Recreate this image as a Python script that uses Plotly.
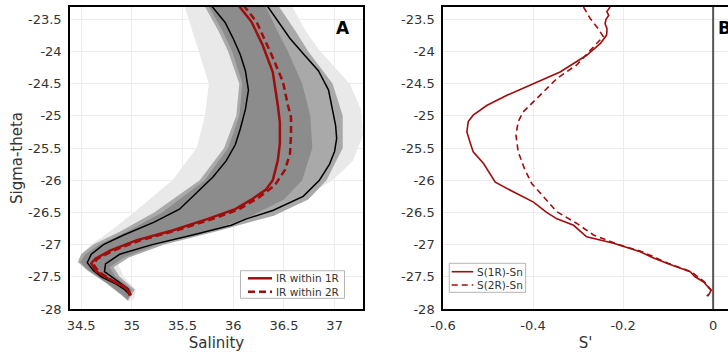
import plotly.graph_objects as go

# ---------------- Panel A data (Salinity vs Sigma-theta) ----------------
# Gray point cloud, read as envelopes (outer sparse extent, medium band, dense core)
outer_left_sig = [-23.30, -23.70, -24.00, -24.50, -25.00, -25.50, -26.00, -26.50, -26.80, -27.00, -27.15, -27.27, -27.40, -27.60, -27.80, -27.88]
outer_left_sal = [35.52, 35.60, 35.66, 35.76, 35.72, 35.64, 35.40, 35.02, 34.78, 34.60, 34.50, 34.46, 34.56, 34.74, 34.90, 34.97]
outer_right_sig = [-23.30, -23.70, -24.00, -24.50, -24.90, -25.30, -25.70, -26.00, -26.30, -26.50, -26.70, -26.90, -27.10, -27.30, -27.50, -27.70, -27.85, -27.88]
outer_right_sal = [36.58, 36.72, 36.86, 37.15, 37.26, 37.28, 37.18, 36.98, 36.66, 36.36, 35.95, 35.50, 35.08, 34.86, 34.92, 35.04, 35.02, 34.97]

mid_left_sig = [-23.30, -23.70, -24.00, -24.50, -25.00, -25.50, -26.00, -26.50, -26.80, -27.00, -27.15, -27.27, -27.40, -27.60, -27.80, -27.87]
mid_left_sal = [35.72, 35.86, 35.95, 36.06, 36.03, 35.91, 35.67, 35.22, 34.88, 34.62, 34.50, 34.47, 34.56, 34.75, 34.91, 34.96]
mid_right_sig = [-23.30, -23.70, -24.00, -24.50, -25.00, -25.50, -26.00, -26.30, -26.55, -26.80, -27.00, -27.20, -27.35, -27.50, -27.70, -27.87]
mid_right_sal = [36.45, 36.62, 36.74, 36.98, 37.08, 37.08, 36.92, 36.74, 36.40, 35.82, 35.32, 34.97, 34.82, 34.88, 35.03, 34.96]

core_left_sig = [-23.30, -23.70, -24.00, -24.50, -25.00, -25.50, -26.00, -26.50, -26.80, -27.00, -27.15, -27.27, -27.40, -27.60, -27.80, -27.86]
core_left_sal = [35.76, 35.90, 35.99, 36.09, 36.06, 35.95, 35.72, 35.30, 34.95, 34.68, 34.54, 34.49, 34.57, 34.76, 34.92, 34.96]
core_right_sig = [-23.30, -23.70, -24.00, -24.50, -25.00, -25.50, -26.00, -26.30, -26.60, -26.80, -27.00, -27.20, -27.35, -27.50, -27.70, -27.86]
core_right_sal = [36.32, 36.44, 36.54, 36.68, 36.76, 36.78, 36.68, 36.50, 36.12, 35.74, 35.26, 34.92, 34.78, 34.84, 35.00, 34.96]

# Black envelope lines
black_left_sig = [-23.30, -23.55, -23.80, -24.05, -24.30, -24.60, -24.90, -25.20, -25.45, -25.70, -25.95, -26.20, -26.45, -26.65, -26.85, -27.00, -27.15, -27.28, -27.40, -27.50, -27.60, -27.70, -27.78]
black_left_sal = [35.79, 35.92, 36.00, 36.07, 36.12, 36.15, 36.12, 36.07, 36.02, 35.93, 35.80, 35.64, 35.47, 35.22, 34.92, 34.72, 34.60, 34.56, 34.62, 34.70, 34.83, 34.93, 34.98]
black_right_sig = [-23.28, -23.55, -23.80, -24.05, -24.30, -24.60, -24.90, -25.15, -25.35, -25.55, -25.75, -26.00, -26.25, -26.47, -26.60, -26.70, -26.85, -27.00, -27.15, -27.30, -27.42, -27.55, -27.68, -27.78]
black_right_sal = [36.33, 36.45, 36.56, 36.70, 36.84, 36.94, 36.98, 37.01, 37.02, 37.00, 36.95, 36.85, 36.69, 36.39, 36.13, 35.98, 35.60, 35.20, 34.88, 34.74, 34.73, 34.85, 34.96, 34.99]

# IR within 1R (solid) and within 2R (dashed)
ir1_sig = [-23.28, -23.54, -23.90, -24.32, -24.84, -25.10, -25.43, -25.69, -26.00, -26.15, -26.31, -26.45, -26.60, -26.78, -26.93, -27.09, -27.22, -27.29, -27.42, -27.55, -27.68, -27.79]
ir1_sal = [36.05, 36.18, 36.29, 36.39, 36.44, 36.46, 36.46, 36.44, 36.39, 36.32, 36.17, 36.02, 35.75, 35.40, 35.05, 34.79, 34.64, 34.60, 34.65, 34.79, 34.95, 34.98]
ir2_sig = [-23.28, -23.54, -24.06, -24.47, -24.84, -25.02, -25.30, -25.59, -25.84, -26.08, -26.26, -26.45, -26.60, -26.78, -26.93, -27.09, -27.22, -27.30, -27.42, -27.55, -27.68, -27.79]
ir2_sal = [36.10, 36.23, 36.38, 36.49, 36.54, 36.57, 36.57, 36.56, 36.51, 36.41, 36.26, 36.06, 35.80, 35.44, 35.09, 34.82, 34.66, 34.62, 34.67, 34.80, 34.96, 34.99]

# ---------------- Panel B data (S' vs Sigma-theta) ----------------
s1_sig = [-23.31, -23.38, -23.44, -23.50, -23.57, -23.64, -23.70, -23.75, -23.88, -24.06, -24.32, -24.50, -24.68, -24.84, -24.99, -25.09, -25.25, -25.41, -25.56, -25.74, -25.90, -26.03, -26.18, -26.34, -26.50, -26.60, -26.70, -26.80, -26.88, -26.98, -27.11, -27.20, -27.29, -27.42, -27.50, -27.58, -27.66, -27.71, -27.76, -27.80]
s1_val = [-0.229, -0.236, -0.232, -0.238, -0.240, -0.236, -0.236, -0.237, -0.251, -0.281, -0.340, -0.399, -0.458, -0.503, -0.533, -0.544, -0.547, -0.540, -0.533, -0.510, -0.495, -0.484, -0.444, -0.399, -0.370, -0.347, -0.310, -0.295, -0.281, -0.221, -0.162, -0.135, -0.103, -0.051, -0.040, -0.021, -0.010, -0.005, -0.008, -0.014]
s2_sig = [-23.31, -23.49, -23.65, -23.77, -23.85, -23.96, -24.21, -24.42, -24.73, -24.94, -25.09, -25.30, -25.56, -25.84, -26.05, -26.26, -26.49, -26.67, -26.85, -26.98, -27.11, -27.29, -27.42, -27.58, -27.71, -27.80]
s2_val = [-0.288, -0.273, -0.255, -0.244, -0.255, -0.270, -0.303, -0.347, -0.392, -0.422, -0.433, -0.438, -0.433, -0.418, -0.403, -0.377, -0.347, -0.303, -0.266, -0.218, -0.158, -0.100, -0.049, -0.019, -0.004, -0.012]

# Axis ticks
sal_ticks = [34.5, 35, 35.5, 36, 36.5, 37]
sal_ticktext = ["34.5", "35", "35.5", "36", "36.5", "37"]
sig_ticks = [-23.5, -24, -24.5, -25, -25.5, -26, -26.5, -27, -27.5, -28]
sig_ticktext = ["-23.5", "-24", "-24.5", "-25", "-25.5", "-26", "-26.5", "-27", "-27.5", "-28"]
sp_ticks = [-0.6, -0.4, -0.2, 0]
sp_ticktext = ["-0.6", "-0.4", "-0.2", "0"]

# Legend labels
legendA_labels = ["IR within 1R", "IR within 2R"]
legendB_labels = ["S(1R)-Sn", "S(2R)-Sn"]

RED = "#a00d0d"
FONT = "DejaVu Sans"

fig = go.Figure()


def band(lx, ly, rx, ry, color):
    fig.add_trace(go.Scatter(
        x=lx + rx[::-1], y=ly + ry[::-1], mode="lines", fill="toself",
        fillcolor=color, line=dict(width=0), showlegend=False,
        hoverinfo="skip", xaxis="x", yaxis="y"))


band(outer_left_sal, outer_left_sig, outer_right_sal, outer_right_sig, "#e9e9e9")
band(mid_left_sal, mid_left_sig, mid_right_sal, mid_right_sig, "#a9a9a9")
band(core_left_sal, core_left_sig, core_right_sal, core_right_sig, "#8c8c8c")

for xs, ys in [(black_left_sal, black_left_sig), (black_right_sal, black_right_sig)]:
    fig.add_trace(go.Scatter(x=xs, y=ys, mode="lines", line=dict(color="black", width=1.5),
                             showlegend=False, xaxis="x", yaxis="y"))

DASH_A = "7px,4px"
DASH_B = "6px,4px"
fig.add_trace(go.Scatter(x=ir1_sal, y=ir1_sig, mode="lines", name=legendA_labels[0], showlegend=False,
                         line=dict(color=RED, width=2.5), xaxis="x", yaxis="y"))
fig.add_trace(go.Scatter(x=ir2_sal, y=ir2_sig, mode="lines", name=legendA_labels[1], showlegend=False,
                         line=dict(color=RED, width=2.5, dash=DASH_A), xaxis="x", yaxis="y"))

fig.add_trace(go.Scatter(x=s1_val, y=s1_sig, mode="lines", name=legendB_labels[0], showlegend=False,
                         line=dict(color=RED, width=1.6), xaxis="x2", yaxis="y2"))
fig.add_trace(go.Scatter(x=s2_val, y=s2_sig, mode="lines", name=legendB_labels[1], showlegend=False,
                         line=dict(color=RED, width=1.6, dash=DASH_B), xaxis="x2", yaxis="y2"))

tickfont = dict(family=FONT, size=13, color="#333333")
titlefont = dict(family=FONT, size=15, color="#333333")
common = dict(showline=True, linecolor="black", linewidth=1.5, showgrid=True,
              gridcolor="#ececec", gridwidth=1, zeroline=False, ticks="",
              tickfont=tickfont, ticklabelstandoff=4)

shapes = [dict(type="line", xref="x2", yref="y2 domain", x0=0, x1=0, y0=0, y1=1,
               line=dict(color="#555555", width=2))]
annotations = [
    dict(text="<b>A</b>", xref="x", yref="y", x=37.08, y=-23.64, showarrow=False,
         font=dict(family=FONT, size=17, color="black")),
    dict(text="<b>B</b>", xref="x2", yref="y2", x=0.006, y=-23.64, xanchor="left", showarrow=False,
         font=dict(family=FONT, size=17, color="black")),
]

# Manual compact legends (paper coordinates)
def legend(box, line_x, rows, labels, width, dash_style):
    shapes.append(dict(type="rect", xref="paper", yref="paper", x0=box[0], x1=box[1], y0=box[2], y1=box[3],
                       line=dict(color="#b5b5b5", width=1), fillcolor="white", layer="above"))
    for i, (yy, lab) in enumerate(zip(rows, labels)):
        shapes.append(dict(type="line", xref="paper", yref="paper", x0=line_x[0], x1=line_x[1], y0=yy, y1=yy,
                           line=dict(color=RED, width=width, dash=(dash_style if i == 1 else "solid")),
                           layer="above"))
        annotations.append(dict(text=lab, xref="paper", yref="paper", x=line_x[1] + 0.003, y=yy,
                                xanchor="left", yanchor="middle", showarrow=False,
                                font=dict(family=FONT, size=10.5, color="#333333")))


legend((0.2591, 0.4172, 0.0354, 0.1268), (0.2705, 0.3070), (0.1017, 0.0573), legendA_labels, 2.5, DASH_A)
legend((0.5764, 0.6925, 0.0553, 0.1513), (0.5801, 0.6129), (0.1235, 0.0795), legendB_labels, 1.6, DASH_B)

fig.update_layout(
    width=728, height=352,
    margin=dict(l=70, r=0, t=7, b=43),
    plot_bgcolor="white", paper_bgcolor="white",
    font=dict(family=FONT, color="#333333"),
    showlegend=False,
    xaxis=dict(domain=[0, 0.4453], range=[34.39, 37.28], tickvals=sal_ticks, ticktext=sal_ticktext,
               mirror=True, anchor="y",
               title=dict(text="Salinity", font=titlefont, standoff=6), **common),
    yaxis=dict(range=[-28, -23.31], tickvals=sig_ticks, ticktext=sig_ticktext, mirror=True, anchor="x",
               title=dict(text="Sigma-theta", font=titlefont, standoff=2), **common),
    xaxis2=dict(domain=[0.5669, 1], range=[-0.6, 0.033], tickvals=sp_ticks, ticktext=sp_ticktext,
                mirror=True, anchor="y2",
                title=dict(text="S'", font=titlefont, standoff=6), **common),
    yaxis2=dict(range=[-28, -23.31], tickvals=sig_ticks, ticktext=sig_ticktext, mirror=False, anchor="x2",
                **common),
    shapes=shapes,
    annotations=annotations,
)

fig.write_html("out.html")
